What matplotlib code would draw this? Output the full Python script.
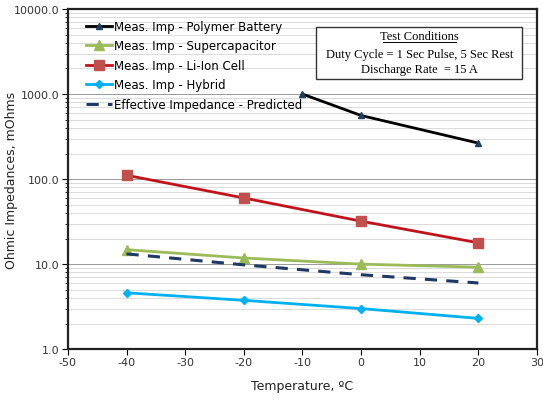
import matplotlib
matplotlib.use("Agg")
import matplotlib.pyplot as plt
from matplotlib.ticker import FixedLocator, FormatStrFormatter, LogLocator, NullFormatter
from matplotlib.patches import Rectangle

plt.rcParams["axes.unicode_minus"] = False

# data
temps = [-40, -20, 0, 20]
polymer_t = [-10, 0, 20]
polymer = [1000, 560, 265]
supercap = [14.8, 11.8, 10.0, 9.2]
li_ion = [111, 60, 32, 17.8]
hybrid = [4.6, 3.75, 3.0, 2.3]
predicted = [13.2, 9.8, 7.5, 6.0]

y_ticks = [1, 10, 100, 1000, 10000]
x_ticks = [-50, -40, -30, -20, -10, 0, 10, 20, 30]

fig = plt.figure(figsize=(5.43, 4.02), dpi=100)
ax = fig.add_axes([0.125, 0.129, 0.864, 0.846])

ax.plot(polymer_t, polymer, color="black", lw=2, marker="^", ms=4,
        mfc="#1f3f5f", mec="#1f3f5f", label="Meas. Imp - Polymer Battery")
ax.plot(temps, supercap, color="#9bbb59", lw=2, marker="^", ms=7,
        label="Meas. Imp - Supercapacitor")
ax.plot(temps, li_ion, color="#c0141c", lw=2, marker="s", ms=7,
        mfc="#c0504d", mec="#c0504d", label="Meas. Imp - Li-Ion Cell")
ax.plot(temps, hybrid, color="#00b0f0", lw=2, marker="D", ms=4.5,
        label="Meas. Imp - Hybrid")
ax.plot(temps, predicted, color="#1f3864", lw=2.2, ls=(0, (4, 3)),
        label="Effective Impedance - Predicted")

ax.set_yscale("log")
ax.set_ylim(1, 10000)
ax.set_xlim(-50, 30)
ax.yaxis.set_major_locator(FixedLocator(y_ticks))
ax.yaxis.set_major_formatter(FormatStrFormatter("%.1f"))
ax.yaxis.set_minor_locator(LogLocator(base=10, subs=range(2, 10)))
ax.yaxis.set_minor_formatter(NullFormatter())
ax.set_xticks(x_ticks)

ax.grid(True, which="minor", axis="y", color="#d4d4d4", lw=0.6)
ax.grid(True, which="major", axis="y", color="#999999", lw=0.7)
ax.set_axisbelow(True)

for s in ax.spines.values():
    s.set_linewidth(1.6)
    s.set_color("#222222")

ax.tick_params(axis="both", which="major", labelsize=8, length=4, pad=2,
               direction="out", labelcolor="#333333")
ax.tick_params(axis="y", which="minor", length=2.5)

ax.set_xlabel("Temperature, ºC", fontsize=9, labelpad=8, color="#222222")
ax.set_ylabel("Ohmic Impedances, mOhms", fontsize=9, color="#222222")
ax.yaxis.set_label_coords(-0.107, 0.5)

ax.legend(loc="upper left", bbox_to_anchor=(0.015, 1.0), frameon=False,
          fontsize=8.5, handlelength=2.2, handletextpad=0.2, labelspacing=0.55)

# test conditions box
ax.add_patch(Rectangle((0.529, 0.795), 0.44, 0.153, transform=ax.transAxes,
                       fill=True, facecolor="white", edgecolor="#333333", lw=1.0, zorder=5))
cx = 0.749
ax.text(cx, 0.92, "Test Conditions", transform=ax.transAxes, ha="center", va="center",
        family="Liberation Serif", fontsize=9, zorder=6)
ax.plot([cx - 0.078, cx + 0.078], [0.903, 0.903], transform=ax.transAxes,
        color="black", lw=0.7, zorder=6)
ax.text(cx, 0.868, "Duty Cycle = 1 Sec Pulse, 5 Sec Rest", transform=ax.transAxes,
        ha="center", va="center", family="Liberation Serif", fontsize=9, zorder=6)
ax.text(cx, 0.823, "Discharge Rate  = 15 A", transform=ax.transAxes,
        ha="center", va="center", family="Liberation Serif", fontsize=9, zorder=6)

fig.savefig("out.png", dpi=100)
